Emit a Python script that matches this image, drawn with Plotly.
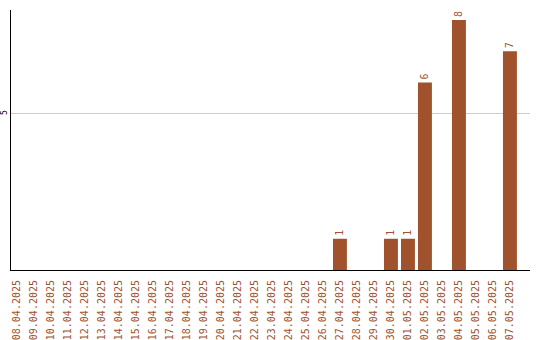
import plotly.graph_objects as go

# Daily counts, 08.04.2025 – 07.05.2025
dates = [
    "08.04.2025", "09.04.2025", "10.04.2025", "11.04.2025", "12.04.2025",
    "13.04.2025", "14.04.2025", "15.04.2025", "16.04.2025", "17.04.2025",
    "18.04.2025", "19.04.2025", "20.04.2025", "21.04.2025", "22.04.2025",
    "23.04.2025", "24.04.2025", "25.04.2025", "26.04.2025", "27.04.2025",
    "28.04.2025", "29.04.2025", "30.04.2025", "01.05.2025", "02.05.2025",
    "03.05.2025", "04.05.2025", "05.05.2025", "06.05.2025", "07.05.2025",
]
counts = [
    0, 0, 0, 0, 0,
    0, 0, 0, 0, 0,
    0, 0, 0, 0, 0,
    0, 0, 0, 0, 1,
    0, 0, 1, 1, 6,
    0, 8, 0, 0, 7,
]
y_ticks = [5]

BAR = "#A0522D"

labels = [str(v) if v else "" for v in counts]

fig = go.Figure(
    go.Bar(
        x=dates,
        y=counts,
        marker=dict(color=BAR, line=dict(width=0)),
        text=labels,
        textposition="outside",
        textangle=-90,
        textfont=dict(family="DejaVu Sans Mono", size=10, color=BAR),
        cliponaxis=False,
    )
)

fig.update_layout(
    width=540,
    height=340,
    margin=dict(l=11, r=10, t=10, b=70),
    paper_bgcolor="white",
    plot_bgcolor="white",
    bargap=0.18,
    showlegend=False,
    uniformtext=dict(minsize=10, mode="show"),
)

fig.update_xaxes(
    type="category",
    range=[-0.35, 30.18],
    showline=True,
    linecolor="black",
    linewidth=1,
    showgrid=False,
    ticks="",
    tickangle=-90,
    ticklabelstandoff=5,
    tickfont=dict(family="DejaVu Sans Mono", size=10, color=BAR),
    automargin=False,
)

fig.update_yaxes(
    range=[0, 8.32],
    tickvals=y_ticks,
    ticktext=[str(t) for t in y_ticks],
    tickangle=-90,
    tickfont=dict(family="DejaVu Sans Mono", size=8, color="black"),
    showline=True,
    linecolor="black",
    linewidth=1,
    showgrid=True,
    gridcolor="#cccccc",
    gridwidth=1,
    zeroline=False,
    ticks="",
    automargin=False,
)

fig.write_html("out.html")
